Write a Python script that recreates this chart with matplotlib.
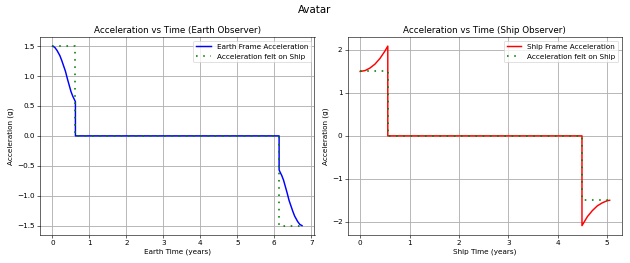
import numpy as np
import matplotlib
matplotlib.use("Agg")
import matplotlib.pyplot as plt

# Earth observer frame
earth_t = [0.0, 0.06, 0.12, 0.2, 0.25, 0.3, 0.35, 0.4, 0.45, 0.5, 0.55, 0.59, 0.62,
           0.62, 6.13, 6.13, 6.16, 6.2, 6.25, 6.3, 6.35, 6.4, 6.45, 6.5, 6.55, 6.63, 6.69, 6.75]
earth_a = [1.5, 1.48, 1.43, 1.34, 1.26, 1.17, 1.08, 0.96, 0.85, 0.74, 0.66, 0.61, 0.57,
           0.0, 0.0, -0.57, -0.61, -0.66, -0.74, -0.85, -0.96, -1.08, -1.17, -1.26, -1.34, -1.43, -1.48, -1.5]
earth_felt_t = [0.0, 0.62, 0.62, 6.13, 6.13, 6.75]
earth_felt_a = [1.5, 1.5, 0.0, 0.0, -1.5, -1.5]

# Ship observer frame
ship_t = [0.0, 0.1, 0.2, 0.3, 0.4, 0.5, 0.56,
          0.56, 4.49, 4.49, 4.6, 4.7, 4.8, 4.9, 5.0, 5.05]
ship_a = [1.5, 1.52, 1.58, 1.67, 1.8, 1.97, 2.09,
          0.0, 0.0, -2.09, -1.88, -1.74, -1.63, -1.56, -1.51, -1.5]
ship_felt_t = [0.0, 0.56, 0.56, 4.49, 4.49, 5.05]
ship_felt_a = [1.5, 1.5, 0.0, 0.0, -1.5, -1.5]

fig, (ax1, ax2) = plt.subplots(1, 2, figsize=(12, 263 / 52.5), dpi=52.5)

dots = (0, (1, 3.5))

ax1.plot(earth_t, earth_a, color="blue", linewidth=2, label="Earth Frame Acceleration")
ax1.plot(earth_felt_t, earth_felt_a, color="green", linestyle=dots, linewidth=2.2,
         label="Acceleration felt on Ship")
ax1.set_xlabel("Earth Time (years)")
ax1.set_ylabel("Acceleration (g)")
ax1.set_title("Acceleration vs Time (Earth Observer)", fontsize=12)
ax1.legend(loc="upper right")
ax1.grid(True, linewidth=1.2)

ax2.plot(ship_t, ship_a, color="red", linewidth=2, label="Ship Frame Acceleration")
ax2.plot(ship_felt_t, ship_felt_a, color="green", linestyle=dots, linewidth=2.2,
         label="Acceleration felt on Ship")
ax2.set_xlabel("Ship Time (years)")
ax2.set_ylabel("Acceleration (g)")
ax2.set_title("Acceleration vs Time (Ship Observer)", fontsize=12)
ax2.legend(loc="upper right")
ax2.grid(True, linewidth=1.2)

fig.suptitle("Avatar", fontsize=14)
plt.tight_layout()
plt.savefig("out.png")
